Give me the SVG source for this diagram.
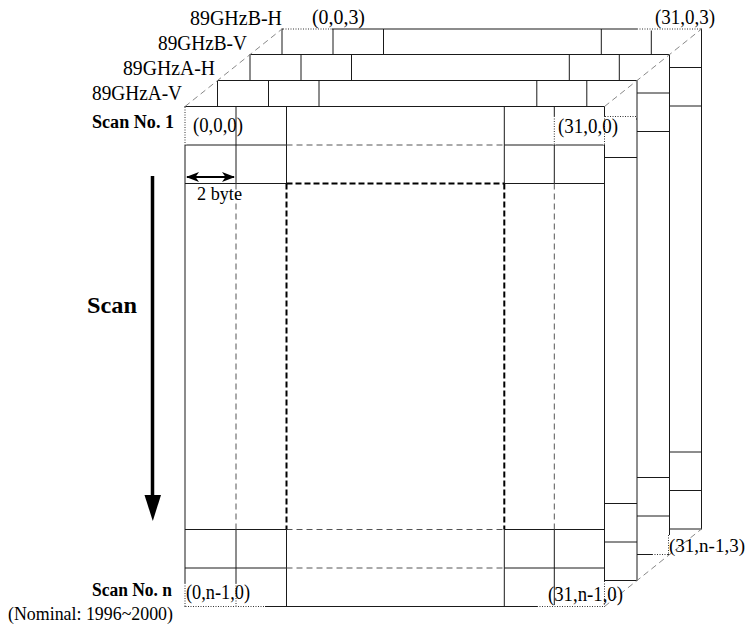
<svg xmlns="http://www.w3.org/2000/svg" width="750" height="625" viewBox="0 0 750 625">
<style>
  .ln{fill:none;stroke:#1a1a1a;stroke-width:1}
  .thin{fill:none;stroke:#555;stroke-width:1;stroke-dasharray:6,4}
  .bold{fill:none;stroke:#000;stroke-width:2;stroke-dasharray:6,3}
  .diag{fill:none;stroke:#888;stroke-width:1;stroke-dasharray:6,4}
  .wipe{fill:none;stroke:#fff;stroke-width:3}
  .dot{fill:none;stroke:#333;stroke-width:1;stroke-dasharray:1,1.5}
  text{font-family:"Liberation Serif","Times New Roman",serif;fill:#000}
  .t{font-size:21px}
  .b{font-weight:bold;font-size:18px}
</style>
<defs>
  <g id="sheet">
    <rect x="0" y="0" width="419.5" height="500" fill="#fff" stroke="#1a1a1a" stroke-width="1"/>
    <path class="ln" d="M51,0V77M101.5,0V77M319.3,0V77M369.3,0V77M51,423V500M101.5,423V500M319.3,423V500M369.3,423V500M0,38.5H101.5M0,77H101.5M319.3,38.5H419.5M319.3,77H419.5M0,423H101.5M0,461.5H101.5M319.3,423H419.5M319.3,461.5H419.5"/>
    <path class="thin" d="M51,77V423M369.3,77V423M101.5,38.5H319.3M101.5,423H319.3M101.5,461.5H319.3"/>
    <path class="bold" d="M101.5,77V423M319.3,77V423M101.5,77H319.3"/>
  </g>
  <marker id="ah" viewBox="0 0 13 10" refX="12" refY="5" markerWidth="13" markerHeight="10" markerUnits="userSpaceOnUse" orient="auto-start-reverse">
    <path d="M0,0L13,5L0,10L3.5,5Z" fill="#000"/>
  </marker>
</defs>

<g id="layer-89GHzB-H"><use href="#sheet" transform="translate(282,29)"/></g>
<g id="layer-89GHzB-V"><use href="#sheet" transform="translate(250,54.5)"/></g>
<g id="layer-89GHzA-H"><use href="#sheet" transform="translate(217.5,80.5)"/></g>
<g id="layer-89GHzA-V"><use href="#sheet" transform="translate(185,106.5)"/></g>

<g id="textbox-edges">
  <path class="wipe" d="M185,107V144.5M283,29H332M637,29H700.5M554.3,116V144.5M604.5,116V144.5M605,119H636M185,583V606M236,583V606M185.5,606.5H265M537,606.5H604M604.5,581V606M652,554.5H668M668.5,535V554"/>
  <path class="dot" d="M185,107V144.5M283,29H332M637,29H700.5M554.3,116V144.5M604.5,116V144.5M605,116.5H636.5M185,583V606M236,583V606M185.5,606.5H265M537,606.5H604M604.5,581V606M652,554.5H668M668.5,535V554"/>
</g>

<g id="connectors">
  <path class="diag" d="M185,106.5L282,29M604.5,106.5L701.5,29M604.5,606.5L701.5,529"/>
  <line x1="152.5" y1="176" x2="152.5" y2="498" stroke="#000" stroke-width="3.5"/>
  <path d="M144.5,495H161L152.8,521Z" fill="#000"/>
  <line x1="187" y1="177" x2="234" y2="177" stroke="#000" stroke-width="2" marker-start="url(#ah)" marker-end="url(#ah)"/>
</g>

<g id="labels">
  <text class="t" x="190" y="25" textLength="92" lengthAdjust="spacingAndGlyphs">89GHzB-H</text>
  <text class="t" x="158" y="50" textLength="89" lengthAdjust="spacingAndGlyphs">89GHzB-V</text>
  <text class="t" x="123" y="75" textLength="92" lengthAdjust="spacingAndGlyphs">89GHzA-H</text>
  <text class="t" x="92" y="100" textLength="90" lengthAdjust="spacingAndGlyphs">89GHzA-V</text>
  <text class="t" x="312" y="24" textLength="53" lengthAdjust="spacingAndGlyphs">(0,0,3)</text>
  <text class="t" x="655" y="24" textLength="60" lengthAdjust="spacingAndGlyphs">(31,0,3)</text>
  <text class="b" x="92" y="128" textLength="82" lengthAdjust="spacingAndGlyphs">Scan No. 1</text>
  <text class="t" x="193" y="132" textLength="50" lengthAdjust="spacingAndGlyphs">(0,0,0)</text>
  <text class="t" x="558" y="133" textLength="60" lengthAdjust="spacingAndGlyphs">(31,0,0)</text>
  <text class="t" x="197" y="200" style="font-size:19px" textLength="45" lengthAdjust="spacingAndGlyphs">2 byte</text>
  <text class="b" x="87" y="313" style="font-size:24px" textLength="50" lengthAdjust="spacingAndGlyphs">Scan</text>
  <text class="t" x="669" y="552" style="font-size:19px">(31,n-1,3)</text>
  <text class="t" x="548" y="601" textLength="75" lengthAdjust="spacingAndGlyphs">(31,n-1,0)</text>
  <text class="b" x="92" y="596" textLength="80" lengthAdjust="spacingAndGlyphs">Scan No. n</text>
  <text class="t" x="186" y="599" textLength="64" lengthAdjust="spacingAndGlyphs">(0,n-1,0)</text>
  <text class="t" x="8" y="620" style="font-size:18px" textLength="165" lengthAdjust="spacingAndGlyphs">(Nominal: 1996~2000)</text>
</g>
</svg>
